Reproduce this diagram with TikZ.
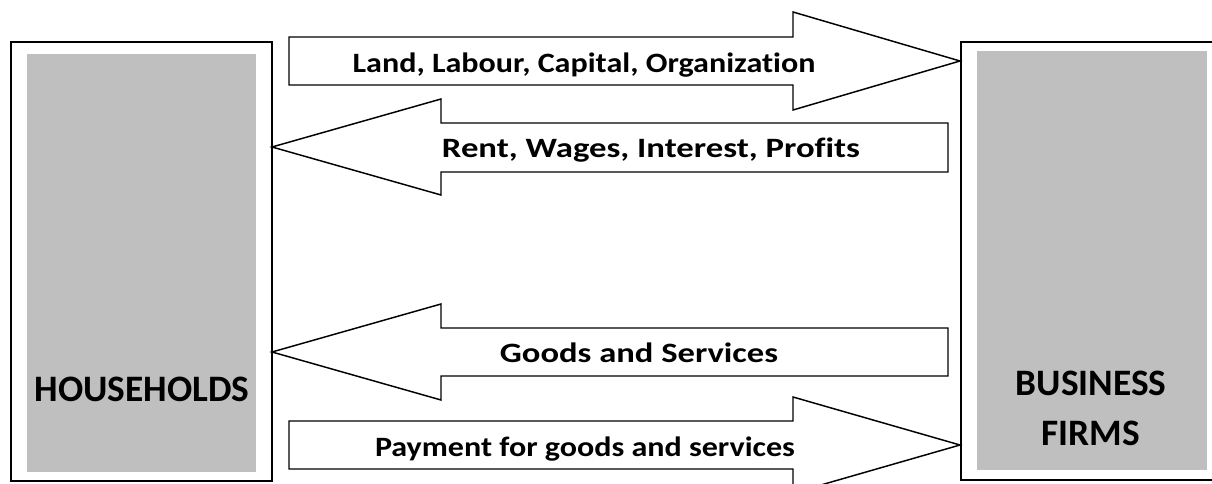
\documentclass[tikz,border=0pt]{standalone}
\usepackage{fontspec}
\setmainfont[Ligatures=NoCommon]{Carlito}
\definecolor{boxgray}{RGB}{191,191,191}
\tikzset{
  outline/.style={draw=black, line width=1.1pt},
  flowlabel/.style={font=\bfseries\fontsize{21}{25}\selectfont, inner sep=0pt, anchor=base},
  sectorlabel/.style={font=\bfseries\fontsize{28}{37.5}\selectfont, inner sep=0pt, anchor=base},
}

\begin{document}
\begin{tikzpicture}[x=0.75pt, y=-0.75pt]
        \useasboundingbox (0,0) rectangle (1212,484);
        \begin{scope}
        \clip (0,0) rectangle (1212,484);
        % the two sectors
        \draw[outline] (11,42) rectangle (272,481);
        \fill[boxgray] (27,54) rectangle (256,472);
        \draw[outline] (961,42) rectangle (1240,480);
        \fill[boxgray] (977,51) rectangle (1207,470);
        
        % factor market
        \draw[outline] (289,37) -- (793,37) -- (793,12) -- (960,61) -- (793,110) -- (793,85) -- (289,85) -- cycle;
        \draw[outline] (948,123) -- (441,123) -- (441,99) -- (272,147) -- (441,195) -- (441,172) -- (948,172) -- cycle;
        
        % product market
        \draw[outline] (948,328) -- (441,328) -- (441,304) -- (272,352) -- (441,400) -- (441,376) -- (948,376) -- cycle;
        \draw[outline] (289,421) -- (793,421) -- (793,397) -- (960,445) -- (793,493) -- (793,469) -- (289,469) -- cycle;
        \end{scope}
        
        \node[flowlabel] (factors) at (584,73) {\scalebox{1.146}[1]{Land, Labour, Capital, Organization}};
        \node[flowlabel] (incomes) at (651,158) {\scalebox{1.24}[1]{Rent, Wages, Interest, Profits}};
        \node[flowlabel] (goods) at (639,362) {\scalebox{1.235}[1]{Goods and Services}};
        \node[flowlabel] (payment) at (585,456) {\scalebox{1.145}[1]{Payment for goods and services}};
        
        \node[sectorlabel] (households) at (142,401) {HOUSEHOLDS};
        \node[sectorlabel] (business) at (1091,395) {BUSINESS};
        \node[sectorlabel] (firms) at (1091,445) {FIRMS};
    \end{tikzpicture}
\end{document}
